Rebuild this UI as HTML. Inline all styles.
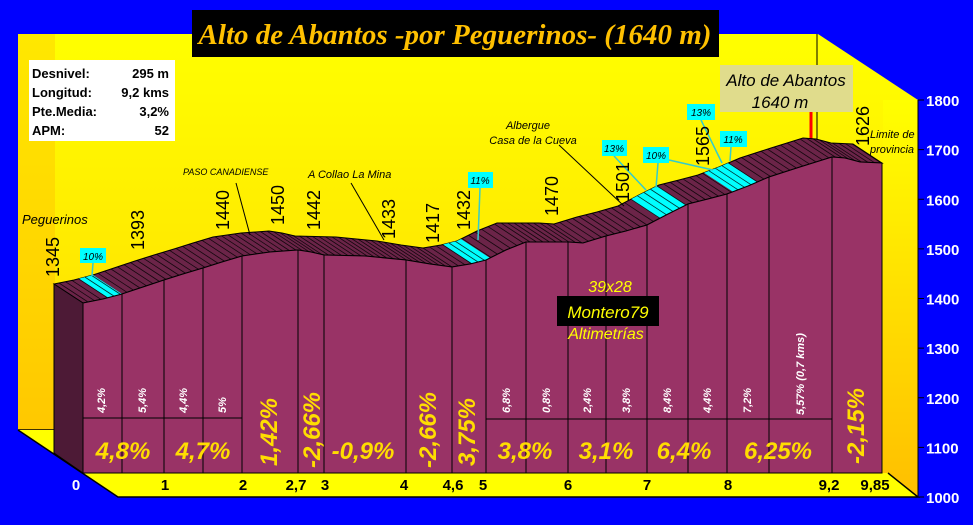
<!DOCTYPE html>
<html><head><meta charset="utf-8"><style>
html,body{margin:0;padding:0;background:#0000ff;width:973px;height:525px;overflow:hidden}
svg{display:block}
.t{font-family:"Liberation Sans",sans-serif}
</style></head><body>
<svg id="s" width="973" height="525" viewBox="0 0 973 525" xmlns="http://www.w3.org/2000/svg">
<defs>
<linearGradient id="bg" x1="0" y1="0" x2="0" y2="1"><stop offset="0" stop-color="#ffff00"/><stop offset="1" stop-color="#ffd400"/></linearGradient>
<linearGradient id="lw" x1="0" y1="0" x2="0" y2="1"><stop offset="0" stop-color="#ffe800"/><stop offset="1" stop-color="#ffc800"/></linearGradient>
<linearGradient id="rw" x1="0" y1="0" x2="0" y2="1"><stop offset="0" stop-color="#ffff00"/><stop offset="1" stop-color="#ffbf00"/></linearGradient>
</defs>
<rect width="973" height="525" fill="#0000ff"/>
<polygon points="18,34 818,34 918,100 918,497 118,497 18,430" fill="url(#bg)"/>
<rect x="18" y="34" width="37" height="396" fill="url(#lw)"/>
<line x1="18" y1="430" x2="55" y2="430" stroke="#000" stroke-width="1.5"/>
<polygon points="883,100 918,100 918,497 883,473" fill="url(#rw)"/>
<polygon points="18,430 55,430 83,473 888,473 918,497 118,497" fill="#ffff00"/>
<polyline points="18,430 118,497 918,497 888,473" fill="none" stroke="#000" stroke-width="1.5"/>
<line x1="817" y1="34" x2="817" y2="140" stroke="#000" stroke-width="1"/>
<line x1="811" y1="112" x2="811" y2="140" stroke="#ff0000" stroke-width="3"/>
<g id="prof"></g>
<line x1="918" y1="100" x2="918" y2="497" stroke="#000" stroke-width="1"/>
<g class="t" font-size="15" font-weight="bold" fill="#fff" id="yax"></g>
<rect x="192" y="10" width="527" height="47" fill="#000"/>
<text x="455" y="44" text-anchor="middle" font-family="Liberation Serif,serif" font-style="italic" font-weight="bold" font-size="29" fill="#ffc000">Alto de Abantos -por Peguerinos- (1640 m)</text>
<rect x="29" y="60" width="146" height="81" fill="#fff"/>
<g class="t" font-size="13" font-weight="bold" fill="#000">
<text x="32" y="78">Desnivel:</text><text x="169" y="78" text-anchor="end">295 m</text>
<text x="32" y="97">Longitud:</text><text x="169" y="97" text-anchor="end">9,2 kms</text>
<text x="32" y="116">Pte.Media:</text><text x="169" y="116" text-anchor="end">3,2%</text>
<text x="32" y="135">APM:</text><text x="169" y="135" text-anchor="end">52</text>
</g>
<rect x="720" y="65" width="133" height="47" fill="#e0dc8c"/>
<g class="t" font-style="italic" font-size="17" fill="#000">
<text x="786" y="86" text-anchor="middle">Alto de Abantos</text>
<text x="780" y="108" text-anchor="middle">1640 m</text>
</g>
<g class="t" font-style="italic" fill="#000">
<text x="22" y="224" font-size="13">Peguerinos</text>
<text x="183" y="175" font-size="9">PASO CANADIENSE</text>
<text x="308" y="178" font-size="11">A Collao La Mina</text>
<text x="528" y="129" font-size="11" text-anchor="middle">Albergue</text>
<text x="533" y="144" font-size="11" text-anchor="middle">Casa de la Cueva</text>
<text x="870" y="138" font-size="11">Limite de</text>
<text x="870" y="153" font-size="11">provincia</text>
</g>
<g stroke="#000" stroke-width="1">
<line x1="236" y1="183" x2="250" y2="235"/><line x1="351" y1="183" x2="384" y2="240"/><line x1="559" y1="145" x2="624" y2="206"/>
</g>
<g stroke="#33cccc" stroke-width="1.5">
<line x1="93" y1="263" x2="92" y2="276"/><line x1="480" y1="188" x2="478" y2="240"/>
<line x1="614" y1="156" x2="646" y2="190"/><line x1="658" y1="163" x2="656" y2="188"/>
<line x1="669" y1="160" x2="713" y2="170"/><line x1="701" y1="120" x2="722" y2="163"/><line x1="731" y1="147" x2="730" y2="161"/>
</g>
<g class="t" font-style="italic" font-size="10" fill="#000">
<rect x="80" y="248" width="26" height="15" fill="#00ffff"/><text x="93" y="260" text-anchor="middle">10%</text>
<rect x="468" y="172" width="25" height="16" fill="#00ffff"/><text x="480" y="184" text-anchor="middle">11%</text>
<rect x="602" y="140" width="25" height="16" fill="#00ffff"/><text x="614" y="152" text-anchor="middle">13%</text>
<rect x="643" y="147" width="26" height="16" fill="#00ffff"/><text x="656" y="159" text-anchor="middle">10%</text>
<rect x="687" y="104" width="28" height="16" fill="#00ffff"/><text x="701" y="116" text-anchor="middle">13%</text>
<rect x="720" y="131" width="27" height="16" fill="#00ffff"/><text x="733" y="143" text-anchor="middle">11%</text>
</g>
<g class="t" font-size="18" fill="#000">
<text transform="translate(59,257) rotate(-90)" text-anchor="middle">1345</text>
<text transform="translate(144,230) rotate(-90)" text-anchor="middle">1393</text>
<text transform="translate(229,210) rotate(-90)" text-anchor="middle">1440</text>
<text transform="translate(284,205) rotate(-90)" text-anchor="middle">1450</text>
<text transform="translate(320,210) rotate(-90)" text-anchor="middle">1442</text>
<text transform="translate(395,219) rotate(-90)" text-anchor="middle">1433</text>
<text transform="translate(439,223) rotate(-90)" text-anchor="middle">1417</text>
<text transform="translate(470,210) rotate(-90)" text-anchor="middle">1432</text>
<text transform="translate(558,196) rotate(-90)" text-anchor="middle">1470</text>
<text transform="translate(629,182) rotate(-90)" text-anchor="middle">1501</text>
<text transform="translate(709,146) rotate(-90)" text-anchor="middle">1565</text>
<text transform="translate(869,126) rotate(-90)" text-anchor="middle">1626</text>
</g>
<g class="t" font-style="italic" fill="#ffff00">
<text x="610" y="292" font-size="16" text-anchor="middle">39x28</text>
<rect x="557" y="296" width="102" height="30" fill="#000"/>
<text x="608" y="318" font-size="17" text-anchor="middle">Montero79</text>
<text x="606" y="339" font-size="16" text-anchor="middle">Altimetrías</text>
</g>
<g class="t" font-style="italic" font-weight="bold" font-size="11" fill="#fff" id="sm"></g>
<g class="t" font-style="italic" font-weight="bold" font-size="24" fill="#ffdd00">
<text x="123" y="459" text-anchor="middle">4,8%</text>
<text x="203" y="459" text-anchor="middle">4,7%</text>
<text x="363" y="459" text-anchor="middle">-0,9%</text>
<text x="525" y="459" text-anchor="middle">3,8%</text>
<text x="606" y="459" text-anchor="middle">3,1%</text>
<text x="684" y="459" text-anchor="middle">6,4%</text>
<text x="778" y="459" text-anchor="middle">6,25%</text>
<text transform="translate(277,432) rotate(-90)" text-anchor="middle">1,42%</text>
<text transform="translate(320,430) rotate(-90)" text-anchor="middle">-2,66%</text>
<text transform="translate(436,430) rotate(-90)" text-anchor="middle">-2,66%</text>
<text transform="translate(475,432) rotate(-90)" text-anchor="middle">3,75%</text>
<text transform="translate(864,426) rotate(-90)" text-anchor="middle">-2,15%</text>
</g>
<g class="t" font-size="15" font-weight="bold" fill="#000" text-anchor="middle">
<text x="76" y="490" fill="#fff">0</text><text x="165" y="490">1</text><text x="243" y="490">2</text><text x="296" y="490">2,7</text><text x="325" y="490">3</text><text x="404" y="490">4</text><text x="453" y="490">4,6</text><text x="483" y="490">5</text><text x="568" y="490">6</text><text x="647" y="490">7</text><text x="728" y="490">8</text><text x="829" y="490">9,2</text><text x="875" y="490">9,85</text>
</g>
</svg>
<script>
var NS="http://www.w3.org/2000/svg";
function el(n,a,p){var e=document.createElementNS(NS,n);for(var k in a)e.setAttribute(k,a[k]);(p||document.getElementById('prof')).appendChild(e);return e;}
var F=[[83,303],[103,299],[122,294],[143,287],[164,280],[183,274],[203,268],[222,262],[242,256],[270,252],[298,250],[311,252],[324,255],[365,256],[406,260],[430,264],[452,267],[470,264],[486,260],[506,250],[526,242],[547,242],[568,242],[583,243],[606,236],[626,231],[647,225],[668,214],[688,204],[708,199],[727,194],[748,186],[769,177],[800,167],[832,157],[845,158],[860,162],[882,163]];
var dx=-29,dy=-19;
function fy(x){for(var i=0;i<F.length-1;i++){if(x>=F[i][0]&&x<=F[i+1][0]){var t=(x-F[i][0])/(F[i+1][0]-F[i][0]);return F[i][1]+t*(F[i+1][1]-F[i][1]);}}return F[F.length-1][1];}
function pts(a){return a.map(function(p){return p[0]+","+p[1]}).join(" ");}
var B=F.map(function(p){return [p[0]+dx,p[1]+dy]}).reverse();
el('polygon',{points:pts(F.concat(B)),fill:'#6b2448',stroke:'#000','stroke-width':1});
[[108,122],[472,490],[660,686],[733,758]].forEach(function(r){
 var a=[],x;for(x=r[0];x<=r[1];x+=2)a.push([x,fy(x)]);
 var b=a.map(function(p){return [p[0]+dx,p[1]+dy]}).reverse();
 el('polygon',{points:pts(a.concat(b)),fill:'#00ffff'});
});
for(var x=88;x<882;x+=6.5){var y=fy(x);el('line',{x1:x,y1:y,x2:x+dx,y2:y+dy,stroke:'#000','stroke-width':0.8,'stroke-opacity':0.8});}
el('polygon',{points:"54,284 83,303 83,473 54,453",fill:'#4d1a36',stroke:'#000','stroke-width':1});
el('polygon',{points:pts(F.concat([[882,473],[83,473]])),fill:'#993366',stroke:'#000','stroke-width':1});
[122,164,203,242,298,324,406,452,486,526,568,606,647,688,727,769,832].forEach(function(x){el('line',{x1:x,y1:fy(x),x2:x,y2:473,stroke:'#000','stroke-width':1});});
el('line',{x1:83,y1:418,x2:242,y2:418,stroke:'#000','stroke-width':1});
el('line',{x1:486,y1:419,x2:832,y2:419,stroke:'#000','stroke-width':1});
var ya=document.getElementById('yax');
for(var v=1000;v<=1800;v+=100){var yy=497-(v-1000)*397/800;
 el('line',{x1:918,y1:yy,x2:924,y2:yy,stroke:'#000','stroke-width':1},ya);
 var t=el('text',{x:926,y:yy+6},ya);t.textContent=v;}
var sm=document.getElementById('sm');
[[101,'4,2%'],[142,'5,4%'],[183,'4,4%'],[222,'5%'],[506,'6,8%'],[546,'0,8%'],[587,'2,4%'],[626,'3,8%'],[667,'8,4%'],[707,'4,4%'],[747,'7,2%']].forEach(function(d){
 var t=el('text',{transform:'translate('+(d[0]+4)+',413) rotate(-90)'},sm);t.textContent=d[1];});
var t=el('text',{transform:'translate(804,415) rotate(-90)'},sm);t.textContent='5,57% (0,7 kms)';
</script>
</body></html>
